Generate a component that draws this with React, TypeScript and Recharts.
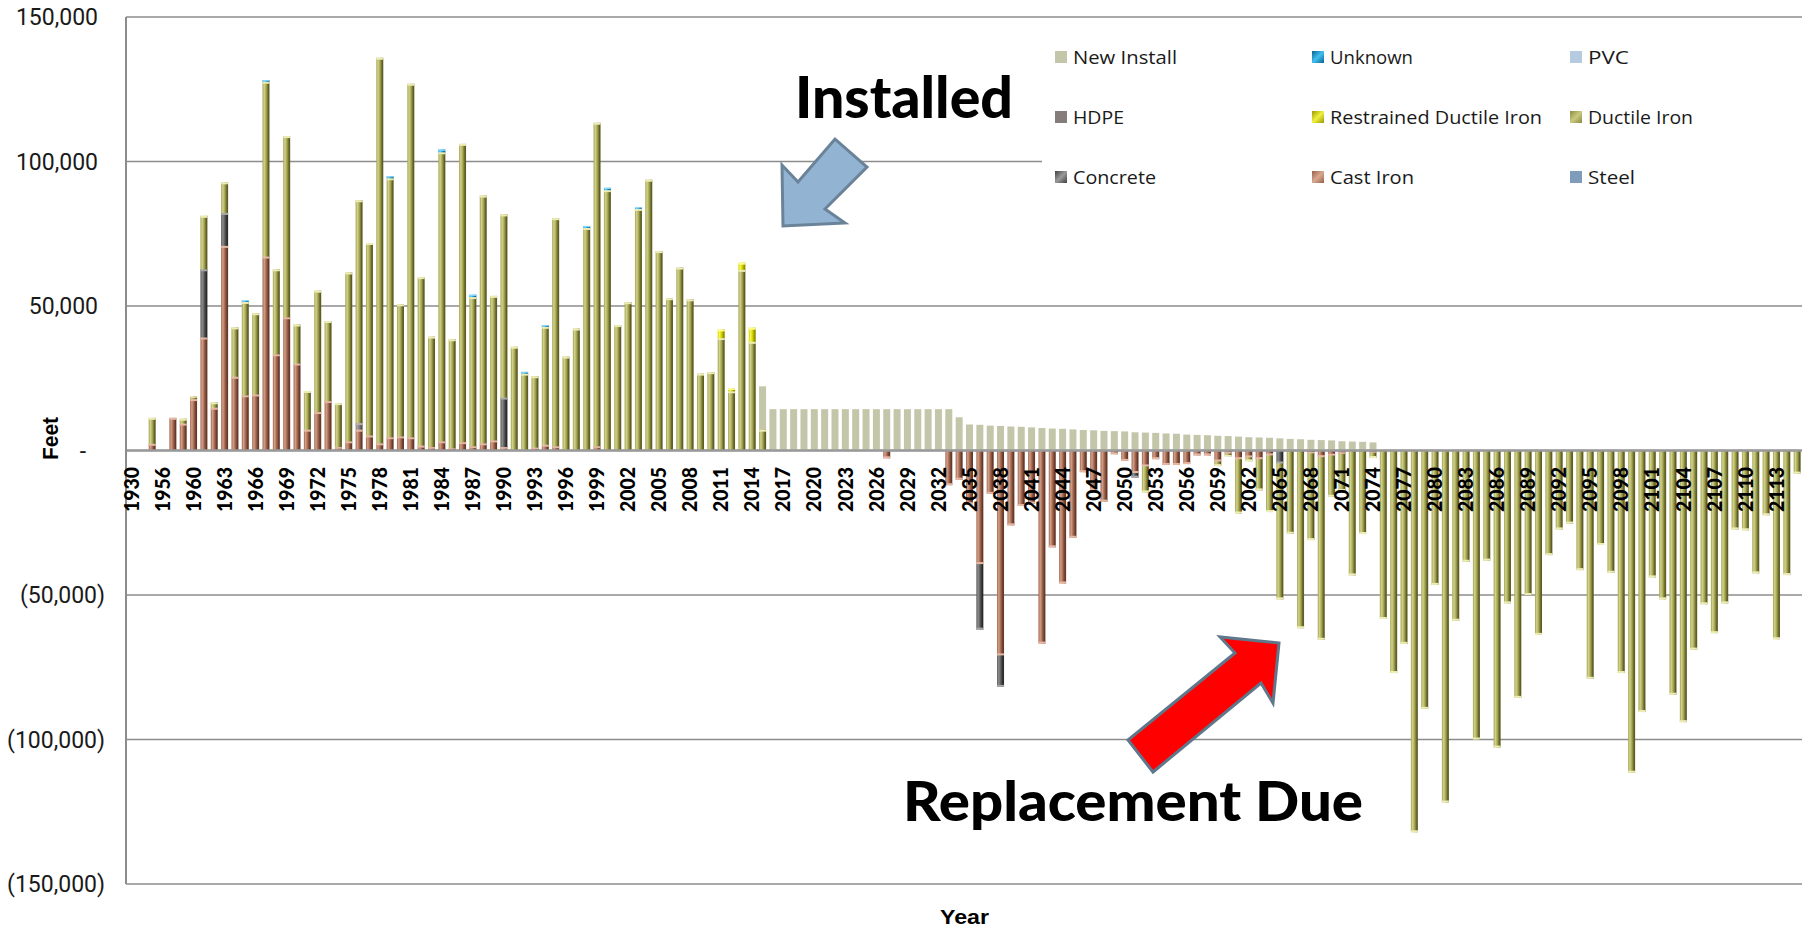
import React from 'react';
import { BarChart, Bar, XAxis, YAxis, CartesianGrid, ReferenceLine } from 'recharts';

// ---------- categories ----------
const pastYears: number[] = [
  1930, 1950, 1955, 1956, 1958, 1959,
  1960, 1961, 1962, 1963, 1964, 1965, 1966, 1967, 1968, 1969,
  1970, 1971, 1972, 1973, 1974, 1975, 1976, 1977, 1978, 1979,
  1980, 1981, 1982, 1983, 1984, 1985, 1986, 1987, 1988, 1989,
  1990, 1991, 1992, 1993, 1994, 1995, 1996, 1997, 1998, 1999,
  2000, 2001, 2002, 2003, 2004, 2005, 2006, 2007, 2008, 2009,
  2010, 2011, 2012, 2013, 2014, 2015,
];
const futureYears: number[] = [
  2016, 2017, 2018, 2019,
  2020, 2021, 2022, 2023, 2024, 2025, 2026, 2027, 2028, 2029,
  2030, 2031, 2032, 2033, 2034, 2035, 2036, 2037, 2038, 2039,
  2040, 2041, 2042, 2043, 2044, 2045, 2046, 2047, 2048, 2049,
  2050, 2051, 2052, 2053, 2054, 2055, 2056, 2057, 2058, 2059,
  2060, 2061, 2062, 2063, 2064, 2065, 2066, 2067, 2068, 2069,
  2070, 2071, 2072, 2073, 2074, 2075, 2076, 2077, 2078, 2079,
  2080, 2081, 2082, 2083, 2084, 2085, 2086, 2087, 2088, 2089,
  2090, 2091, 2092, 2093, 2094, 2095, 2096, 2097, 2098, 2099,
  2100, 2101, 2102, 2103, 2104, 2105, 2106, 2107, 2108, 2109,
  2110, 2111, 2112, 2113, 2114, 2115,
];

// ---------- series values (thousands of feet) ----------
const castIronPast: number[] = [
  0, 0, 2.3, 0, 11.3, 9.3,
  17.8, 39.1, 14.8, 70.8, 25.5, 19.1, 19.4, 67.1, 33.3, 46.1,
  30.1, 7.2, 13.3, 17.1, 1.2, 3.2, 7.2, 5.2, 2.5, 4.6,
  4.9, 4.6, 1.7, 1.2, 3.2, 0.8, 2.9, 1.5, 2.5, 3.5,
  1.2, 0, 0, 1.0, 2.0, 1.5, 0, 0, 0, 1.5,
  0, 0, 0, 0, 0, 0, 0, 0, 0, 0,
  0, 0, 0, 0, 0, 0,
];
const ductilePast: number[] = [
  0, 0, 9.0, 0, 0, 1.7,
  0.9, 18.5, 1.9, 10.6, 17.1, 32.3, 28.1, 60.5, 29.4, 62.7,
  13.5, 13.4, 42.0, 27.7, 15.2, 58.4, 77.1, 66.6, 133.4, 89.6,
  45.7, 122.3, 58.3, 38.2, 100.0, 37.7, 103.2, 51.6, 85.7, 50.0,
  63.4, 35.9, 26.6, 24.7, 40.8, 78.9, 32.5, 42.2, 77.0, 111.9,
  90.1, 43.4, 51.3, 83.6, 93.7, 69.0, 52.7, 63.3, 52.3, 26.6,
  27.1, 38.9, 20.5, 62.5, 37.6, 7.2,
];
const castIronFuture: number[] = [
  0, 0, 0, 0,
  0, 0, 0, 0, 0, 0, 0, -2.7, 0, 0,
  0, 0, 0, -12.0, -10.1, -18.6, -39.3, -15.0, -70.9, -25.9,
  -19.2, -18.4, -66.8, -33.5, -46.0, -30.2, -7.5, -13.8, -17.7, -1.3,
  -3.6, -7.8, -5.5, -3.0, -5.0, -5.0, -4.7, -1.7, -1.7, -3.8,
  -1.1, -3.0, -2.4, -3.0, -1.7, 0, 0, 0, -1.0, -2.3,
  -1.8, -1.2, 0, 0, -0.8, 0, 0, 0, 0, 0,
  0, 0, 0, 0, 0, 0, 0, 0, 0, 0,
  0, 0, 0, 0, 0, 0, 0, 0, 0, 0,
  0, 0, 0, 0, 0, 0, 0, 0, 0, 0,
  0, 0, 0, 0, 0, 0,
];
const ductileFuture: number[] = [
  0, 0, 0, 0,
  0, 0, 0, 0, 0, 0, 0, 0, 0, 0,
  0, 0, 0, 0, 0, 0, 0, 0, 0, 0,
  0, 0, 0, 0, 0, 0, 0, 0, 0, 0,
  0, 0, -9.0, 0, 0, 0, 0, 0, 0, -1.6,
  -0.9, -18.8, -1.3, -10.8, -19.6, -47.0, -28.8, -61.5, -30.0, -63.2,
  -14.2, -12.8, -43.2, -28.9, -1.8, -58.3, -77.0, -66.9, -132.1, -89.4,
  -46.5, -121.8, -58.9, -38.5, -100.0, -38.1, -102.8, -52.9, -85.6, -50.0,
  -63.8, -36.2, -27.3, -25.3, -41.4, -79.0, -32.7, -42.3, -77.0, -111.5,
  -90.5, -43.9, -51.5, -84.5, -94.0, -68.9, -53.2, -63.2, -52.9, -27.3,
  -27.6, -42.5, -22.4, -65.3, -43.1, -8.0,
];
const newInstallFuture: number[] = [
  14.3, 14.3, 14.3, 14.3,
  14.3, 14.3, 14.3, 14.3, 14.3, 14.3, 14.3, 14.3, 14.3, 14.3,
  14.3, 14.3, 14.3, 14.3, 11.5, 9.0, 8.9, 8.6, 8.5, 8.3,
  8.2, 8.0, 7.8, 7.6, 7.5, 7.3, 7.1, 7.0, 6.8, 6.7,
  6.6, 6.3, 6.2, 6.1, 5.9, 5.8, 5.5, 5.4, 5.3, 5.1,
  5.0, 4.8, 4.6, 4.5, 4.4, 4.2, 4.0, 3.9, 3.7, 3.6,
  3.5, 3.2, 3.1, 3.0, 2.8, 0, 0, 0, 0, 0,
  0, 0, 0, 0, 0, 0, 0, 0, 0, 0,
  0, 0, 0, 0, 0, 0, 0, 0, 0, 0,
  0, 0, 0, 0, 0, 0, 0, 0, 0, 0,
  0, 0, 0, 0, 0, 0,
];
// sparse series: [year, thousands of feet]
const newInstallPast: [number, number][] = [[2015, 22.2]];
const concrete: [number, number][] = [
  [1961, 23.6], [1963, 11.4], [1990, 17.1],
  [2036, -22.7], [2038, -10.9], [2051, -1.6], [2065, -4.5],
];
const hdpe: [number, number][] = [[1976, 2.3]];
const restrainedDI: [number, number][] = [[2011, 3.0], [2012, 0.9], [2013, 2.5], [2014, 4.9]];
const unknownMat: [number, number][] = [
  [1965, 0.5], [1967, 0.6], [1979, 0.7], [1984, 1.0], [1987, 0.8],
  [1992, 0.6], [1994, 0.6], [1998, 0.7], [2000, 0.8], [2003, 0.5],
];
const pvc: [number, number][] = [];
const steel: [number, number][] = [];

const yTicks: number[] = [-150000, -100000, -50000, 0, 50000, 100000, 150000];

// ---------- build table ----------
const allYears = [...pastYears, ...futureYears];
const castIronAll = [...castIronPast, ...castIronFuture];
const ductileAll = [...ductilePast, ...ductileFuture];
const pick = (list: [number, number][], yr: number) => {
  const f = list.find((p) => p[0] === yr);
  return f ? f[1] : 0;
};
const K = 1000;
const data = allYears.map((yr, i) => ({
  year: String(yr),
  newInstall: (i < pastYears.length ? pick(newInstallPast, yr) : newInstallFuture[i - pastYears.length]) * K,
  castIron: castIronAll[i] * K,
  hdpe: pick(hdpe, yr) * K,
  concrete: pick(concrete, yr) * K,
  ductile: ductileAll[i] * K,
  restrained: pick(restrainedDI, yr) * K,
  pvc: pick(pvc, yr) * K,
  unknown: pick(unknownMat, yr) * K,
  steel: pick(steel, yr) * K,
}));

// ---------- layout ----------
const W = 1804;
const H = 928;
const MARGIN = { top: 17, right: 2, bottom: 0, left: 6 };
const Y_AXIS_W = 120;
const X_AXIS_H = 44;
const Y_MIN = -150000;
const Y_MAX = 150000;
const PLOT_H = H - MARGIN.top - MARGIN.bottom - X_AXIS_H;
const ZERO_Y = MARGIN.top + (PLOT_H * Y_MAX) / (Y_MAX - Y_MIN);

const GRID = '#8c8c8c';

const materials = [
  { key: 'castIron', name: 'Cast Iron', fill: 'url(#gCI)', cap: '#e6b8a4' },
  { key: 'hdpe', name: 'HDPE', fill: 'url(#gHDPE)', cap: '#b8b0b0' },
  { key: 'concrete', name: 'Concrete', fill: 'url(#gCon)', cap: '#a8a8a8' },
  { key: 'ductile', name: 'Ductile Iron', fill: 'url(#gDI)', cap: '#ececb4' },
  { key: 'restrained', name: 'Restrained Ductile Iron', fill: 'url(#gRDI)', cap: '#ffff90' },
  { key: 'pvc', name: 'PVC', fill: '#b6cbe0', cap: '#d8e6f2' },
  { key: 'unknown', name: 'Unknown', fill: 'url(#gUnk)', cap: '#8edcff' },
  { key: 'steel', name: 'Steel', fill: '#7f9dbb', cap: '#aac0d6' },
];

const legendItems = [
  { name: 'New Install', color: '#c3c6a8', w: 104 },
  { name: 'Unknown', color: 'url(#lUnk)', w: 83 },
  { name: 'PVC', color: '#b6cbe0', w: 41 },
  { name: 'HDPE', color: '#857c7c', w: 51 },
  { name: 'Restrained Ductile Iron', color: 'url(#lRDI)', w: 212 },
  { name: 'Ductile Iron', color: 'url(#lDI)', w: 105 },
  { name: 'Concrete', color: 'url(#lCon)', w: 83 },
  { name: 'Cast Iron', color: 'url(#lCI)', w: 84 },
  { name: 'Steel', color: '#7f9dbb', w: 47 },
];
const LEG_COLS = [1055, 1312, 1570];
const LEG_ROWS = [57, 117, 177];

const fmt = (v: number) => {
  if (v === 0) return '-';
  const s = Math.abs(v).toLocaleString('en-US');
  return v < 0 ? `(${s})` : s;
};

const YTick = (props: any) => {
  const { x, y, payload } = props;
  const v = payload.value as number;
  const dx = v > 0 ? -28 : v < 0 ? -21 : -40;
  return (
    <text x={x + dx} y={y} dy="0.35em" textAnchor="end" fontFamily="Roboto, sans-serif" fontSize={23} fill="#1a1a1a">
      {fmt(v)}
    </text>
  );
};

const XTick = (props: any) => {
  const { x, payload } = props;
  return (
    <text
      transform={`translate(${x + 7.5},${ZERO_Y + 16.5}) rotate(-90)`}
      textAnchor="end"
      fontFamily="Lato, 'Liberation Sans', Arial, sans-serif"
      fontWeight={900}
      fontSize={20.5}
      textLength={45}
      lengthAdjust="spacingAndGlyphs"
      fill="#000"
    >
      {payload.value}
    </text>
  );
};

const makeShape = (dk: string, cap: string) => (props: any) => {
  const { x, y, width, height, fill, payload } = props;
  if (!height || Math.abs(height) < 0.05 || !payload || !payload[dk]) return <g />;
  const top = Math.min(y, y + height);
  const h = Math.abs(height);
  const neg = payload[dk] < 0;
  const capH = Math.min(2, h / 2);
  return (
    <g>
      <rect x={x} y={top} width={width} height={h} fill={fill} />
      <rect x={x} y={neg ? top + h - capH : top} width={width} height={capH} fill={cap} />
    </g>
  );
};

// cylinder-like shading: light on the left, dark on the right edge
const hGrad = (id: string, dark: string, mid: string, light: string) => (
  <linearGradient id={id} x1="0" y1="0" x2="1" y2="0">
    <stop offset="0%" stopColor={mid} />
    <stop offset="25%" stopColor={light} />
    <stop offset="55%" stopColor={mid} />
    <stop offset="85%" stopColor={dark} />
    <stop offset="100%" stopColor={dark} />
  </linearGradient>
);
const dGrad = (id: string, a: string, b: string) => (
  <linearGradient id={id} x1="0" y1="0" x2="1" y2="1">
    <stop offset="0%" stopColor={b} />
    <stop offset="50%" stopColor={a} />
    <stop offset="100%" stopColor={b} />
  </linearGradient>
);

export default function App() {
  return (
    <div style={{ position: 'absolute', left: 0, top: 0, width: W, height: H, background: '#fff', overflow: 'hidden' }}>
      <BarChart
        width={W}
        height={H}
        data={data}
        margin={MARGIN}
        stackOffset="sign"
        barGap={-7}
        barCategoryGap={0}
      >
        <defs>
          {hGrad('gDI', '#5e5e24', '#a3a350', '#d2d28e')}
          {hGrad('gCI', '#66392a', '#a2664d', '#d2a08a')}
          {hGrad('gCon', '#2a2a2a', '#585858', '#8e8e8e')}
          {hGrad('gRDI', '#8f8f00', '#d2d200', '#f6f650')}
          {hGrad('gUnk', '#0a6aa0', '#1c9ad6', '#6fd2ff')}
          {hGrad('gHDPE', '#5a5050', '#857c7c', '#aaa2a2')}
        </defs>
        <CartesianGrid horizontal vertical={false} stroke={GRID} strokeWidth={1.6} />
        <XAxis
          dataKey="year"
          interval={2}
          tick={<XTick />}
          axisLine={false}
          tickLine={false}
          height={X_AXIS_H}
        />
        <YAxis
          domain={[Y_MIN, Y_MAX]}
          ticks={yTicks}
          allowDataOverflow
          width={Y_AXIS_W}
          tick={<YTick />}
          tickSize={0}
          tickMargin={0}
          tickLine={false}
          axisLine={{ stroke: GRID, strokeWidth: 2 }}
        />
        <Bar dataKey="newInstall" name="New Install" stackId="n" fill="#c3c6a8" barSize={7} isAnimationActive={false} />
        {materials.map((m) => (
          <Bar
            key={m.key}
            dataKey={m.key}
            name={m.name}
            stackId="m"
            fill={m.fill}
            barSize={7}
            shape={makeShape(m.key, m.cap)}
            isAnimationActive={false}
          />
        ))}
        <ReferenceLine y={0} stroke="#9a9a9a" strokeWidth={2.5} />
      </BarChart>

      <svg
        width={W}
        height={H}
        style={{ position: 'absolute', left: 0, top: 0, pointerEvents: 'none' }}
      >
        <defs>
          {dGrad('lDI', '#c8c880', '#8a8a40')}
          {dGrad('lCI', '#d8a890', '#9a6048')}
          {dGrad('lCon', '#9a9a9a', '#404040')}
          {dGrad('lRDI', '#f0f040', '#9a9a00')}
          {dGrad('lUnk', '#40c0f0', '#0a6090')}
        </defs>

        {/* legend */}
        <rect x={1042} y={28} width={762} height={175} fill="#fff" />
        {legendItems.map((it, i) => {
          const cx = LEG_COLS[i % 3];
          const cy = LEG_ROWS[Math.floor(i / 3)];
          return (
            <g key={it.name}>
              <rect x={cx} y={cy - 6} width={12} height={12} fill={it.color} />
              <text
                x={cx + 18}
                y={cy + 7}
                fontFamily="'Open Sans', sans-serif"
                fontSize={19}
                fill="#1a1a1a"
                textLength={it.w}
                lengthAdjust="spacingAndGlyphs"
              >
                {it.name}
              </text>
            </g>
          );
        })}

        {/* axis titles */}
        <text
          transform="translate(58,438.5) rotate(-90)"
          textAnchor="middle"
          fontFamily="'Liberation Sans', Arial, sans-serif"
          fontWeight="bold"
          fontSize={22}
          textLength={43}
          lengthAdjust="spacingAndGlyphs"
          fill="#000"
        >
          Feet
        </text>
        <text
          x={940}
          y={924}
          fontFamily="'Liberation Sans', Arial, sans-serif"
          fontWeight="bold"
          fontSize={21}
          textLength={49}
          lengthAdjust="spacingAndGlyphs"
          fill="#000"
        >
          Year
        </text>

        {/* annotations */}
        <polygon
          points="783,226 782,165 798,182 835,139 867,167 825,209 845,223"
          fill="#92b4d2"
          stroke="#6a8399"
          strokeWidth={3}
          strokeLinejoin="miter"
        />
        <text
          x={795}
          y={118}
          fontFamily="Lato, 'DejaVu Sans', sans-serif"
          fontWeight={900}
          fontSize={57}
          textLength={218}
          lengthAdjust="spacingAndGlyphs"
          fill="#000"
        >
          Installed
        </text>
        <polygon
          points="1279,643 1220,637 1235,653 1128,740 1153,772 1261,683 1273,703"
          fill="#ff0000"
          stroke="#5f778b"
          strokeWidth={3}
          strokeLinejoin="miter"
        />
        <text
          x={903}
          y={821}
          fontFamily="Lato, 'DejaVu Sans', sans-serif"
          fontWeight={900}
          fontSize={55}
          textLength={460}
          lengthAdjust="spacingAndGlyphs"
          fill="#000"
        >
          Replacement Due
        </text>
      </svg>
    </div>
  );
}
